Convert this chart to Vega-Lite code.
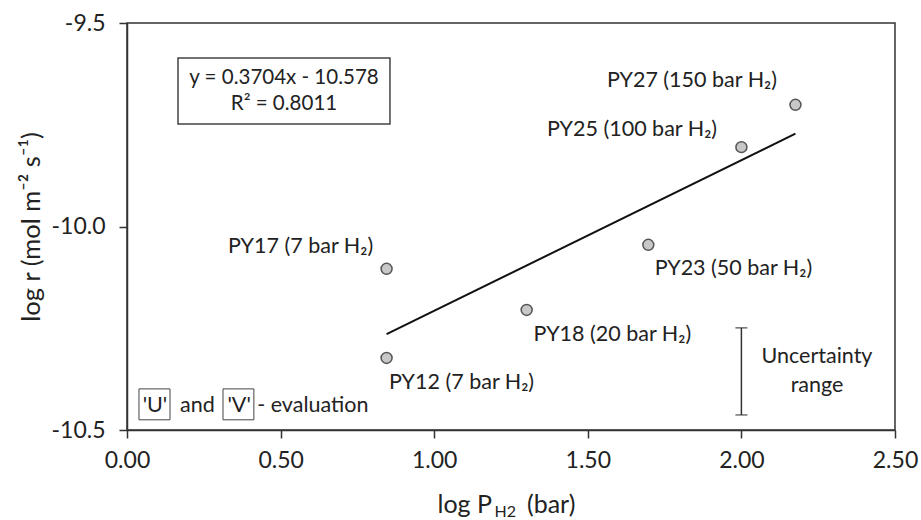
{
  "$schema": "https://vega.github.io/schema/vega-lite/v6.json",
  "width": 768,
  "height": 407,
  "autosize": {"type": "none"},
  "padding": {"left": 127, "top": 23, "right": 26, "bottom": 90},
  "background": "white",
  "config": {
    "font": "Lato",
    "view": {"stroke": "#333333", "strokeWidth": 1.5},
    "axis": {
      "grid": false,
      "domainColor": "#333333",
      "domainWidth": 1.5,
      "tickColor": "#333333",
      "tickWidth": 1.5,
      "tickSize": 8,
      "labelFontSize": 23,
      "labelColor": "#222222",
      "labelFlush": false,
      "labelOverlap": false,
      "labelBound": false,
      "titleFontSize": 25.5,
      "titleFontWeight": "normal",
      "titleColor": "#222222"
    },
    "text": {"font": "Lato", "fontSize": 21.5, "color": "#222222"}
  },
  "datasets": {
    "points": [
      {"x": 0.845, "y": -10.104, "id": "PY17"},
      {"x": 0.845, "y": -10.323, "id": "PY12"},
      {"x": 1.301, "y": -10.205, "id": "PY18"},
      {"x": 1.697, "y": -10.045, "id": "PY23"},
      {"x": 2.0, "y": -9.805, "id": "PY25"},
      {"x": 2.176, "y": -9.701, "id": "PY27"}
    ],
    "labels": [
      {"x": 0.565, "y": -10.05, "t": "PY17 (7 bar H₂)"},
      {"x": 1.089, "y": -10.385, "t": "PY12 (7 bar H₂)"},
      {"x": 1.58, "y": -10.267, "t": "PY18 (20 bar H₂)"},
      {"x": 1.974, "y": -10.104, "t": "PY23 (50 bar H₂)"},
      {"x": 1.644, "y": -9.763, "t": "PY25 (100 bar H₂)"},
      {"x": 1.839, "y": -9.643, "t": "PY27 (150 bar H₂)"},
      {"x": 2.246, "y": -10.321, "t": "Uncertainty"},
      {"x": 2.246, "y": -10.392, "t": "range"},
      {"x": 0.091, "y": -10.441, "t": "'U'"},
      {"x": 0.229, "y": -10.441, "t": "and"},
      {"x": 0.365, "y": -10.441, "t": "'V'"},
      {"x": 0.605, "y": -10.441, "t": "- evaluation"}
    ],
    "equation": [
      {"x": 0.511, "y": -9.635, "t": "y = 0.3704x - 10.578"},
      {"x": 0.511, "y": -9.699, "t": "R² = 0.8011"}
    ],
    "boxes": [
      {"x": 0.166, "x2": 0.856, "y": -9.586, "y2": -9.748, "w": 1.5},
      {"x": 0.039, "x2": 0.14, "y": -10.399, "y2": -10.475, "w": 1},
      {"x": 0.3125, "x2": 0.413, "y": -10.399, "y2": -10.475, "w": 1}
    ],
    "unc": [{"x": 2.0, "y": -10.463, "y2": -10.249}],
    "caps": [{"x": 2.0, "y": -10.463}, {"x": 2.0, "y": -10.249}],
    "xtitleHead": [{"x": 1.188, "y": -10.704, "t": "log P"}],
    "xtitleTail": [{"x": 1.302, "y": -10.704, "t": "(bar)"}],
    "xsub": [{"x": 1.196, "y": -10.713, "t": "H2"}]
  },
  "layer": [
    {
      "data": {"name": "boxes"},
      "mark": {"type": "rect", "fill": null, "filled": false, "stroke": "#444444"},
      "encoding": {
        "x": {"field": "x", "type": "quantitative"},
        "x2": {"field": "x2"},
        "y": {"field": "y", "type": "quantitative"},
        "y2": {"field": "y2"},
        "strokeWidth": {"field": "w", "type": "quantitative", "scale": null}
      }
    },
    {
      "data": {"name": "points"},
      "transform": [{"regression": "y", "on": "x"}],
      "mark": {"type": "line", "color": "#111111", "strokeWidth": 2},
      "encoding": {
        "x": {"field": "x", "type": "quantitative"},
        "y": {"field": "y", "type": "quantitative"}
      }
    },
    {
      "data": {"name": "points"},
      "mark": {"type": "circle", "size": 120, "fill": "#c8c8c8", "stroke": "#555555", "strokeWidth": 1.5, "opacity": 1},
      "encoding": {
        "x": {
          "field": "x",
          "type": "quantitative",
          "scale": {"domain": [0, 2.5], "nice": false, "zero": false},
          "axis": {"values": [0, 0.5, 1, 1.5, 2, 2.5], "format": ".2f", "title": null, "labelPadding": 11}
        },
        "y": {
          "field": "y",
          "type": "quantitative",
          "scale": {"domain": [-10.5, -9.5], "nice": false, "zero": false},
          "axis": {"values": [-10.5, -10, -9.5], "labelExpr": "replace(format(datum.value, '.1f'), '−', '-')", "title": "log r (mol m⁻² s⁻¹)", "labelPadding": 14, "titlePadding": 7}
        }
      }
    },
    {
      "data": {"name": "unc"},
      "mark": {"type": "rule", "color": "#333333", "strokeWidth": 1.5},
      "encoding": {
        "x": {"field": "x", "type": "quantitative"},
        "y": {"field": "y", "type": "quantitative"},
        "y2": {"field": "y2"}
      }
    },
    {
      "data": {"name": "caps"},
      "mark": {"type": "tick", "orient": "horizontal", "color": "#333333", "size": 12, "thickness": 1.5},
      "encoding": {
        "x": {"field": "x", "type": "quantitative"},
        "y": {"field": "y", "type": "quantitative"}
      }
    },
    {
      "data": {"name": "labels"},
      "mark": {"type": "text", "align": "center", "baseline": "middle"},
      "encoding": {
        "x": {"field": "x", "type": "quantitative"},
        "y": {"field": "y", "type": "quantitative"},
        "text": {"field": "t"}
      }
    },
    {
      "data": {"name": "equation"},
      "mark": {"type": "text", "align": "center", "baseline": "middle", "fontSize": 20.5},
      "encoding": {
        "x": {"field": "x", "type": "quantitative"},
        "y": {"field": "y", "type": "quantitative"},
        "text": {"field": "t"}
      }
    },
    {
      "data": {"name": "xtitleHead"},
      "mark": {"type": "text", "align": "right", "baseline": "alphabetic", "fontSize": 25, "clip": false},
      "encoding": {
        "x": {"field": "x", "type": "quantitative"},
        "y": {"field": "y", "type": "quantitative"},
        "text": {"field": "t"}
      }
    },
    {
      "data": {"name": "xtitleTail"},
      "mark": {"type": "text", "align": "left", "baseline": "alphabetic", "fontSize": 25, "clip": false},
      "encoding": {
        "x": {"field": "x", "type": "quantitative"},
        "y": {"field": "y", "type": "quantitative"},
        "text": {"field": "t"}
      }
    },
    {
      "data": {"name": "xsub"},
      "mark": {"type": "text", "align": "left", "baseline": "alphabetic", "fontSize": 16, "clip": false},
      "encoding": {
        "x": {"field": "x", "type": "quantitative"},
        "y": {"field": "y", "type": "quantitative"},
        "text": {"field": "t"}
      }
    }
  ]
}
